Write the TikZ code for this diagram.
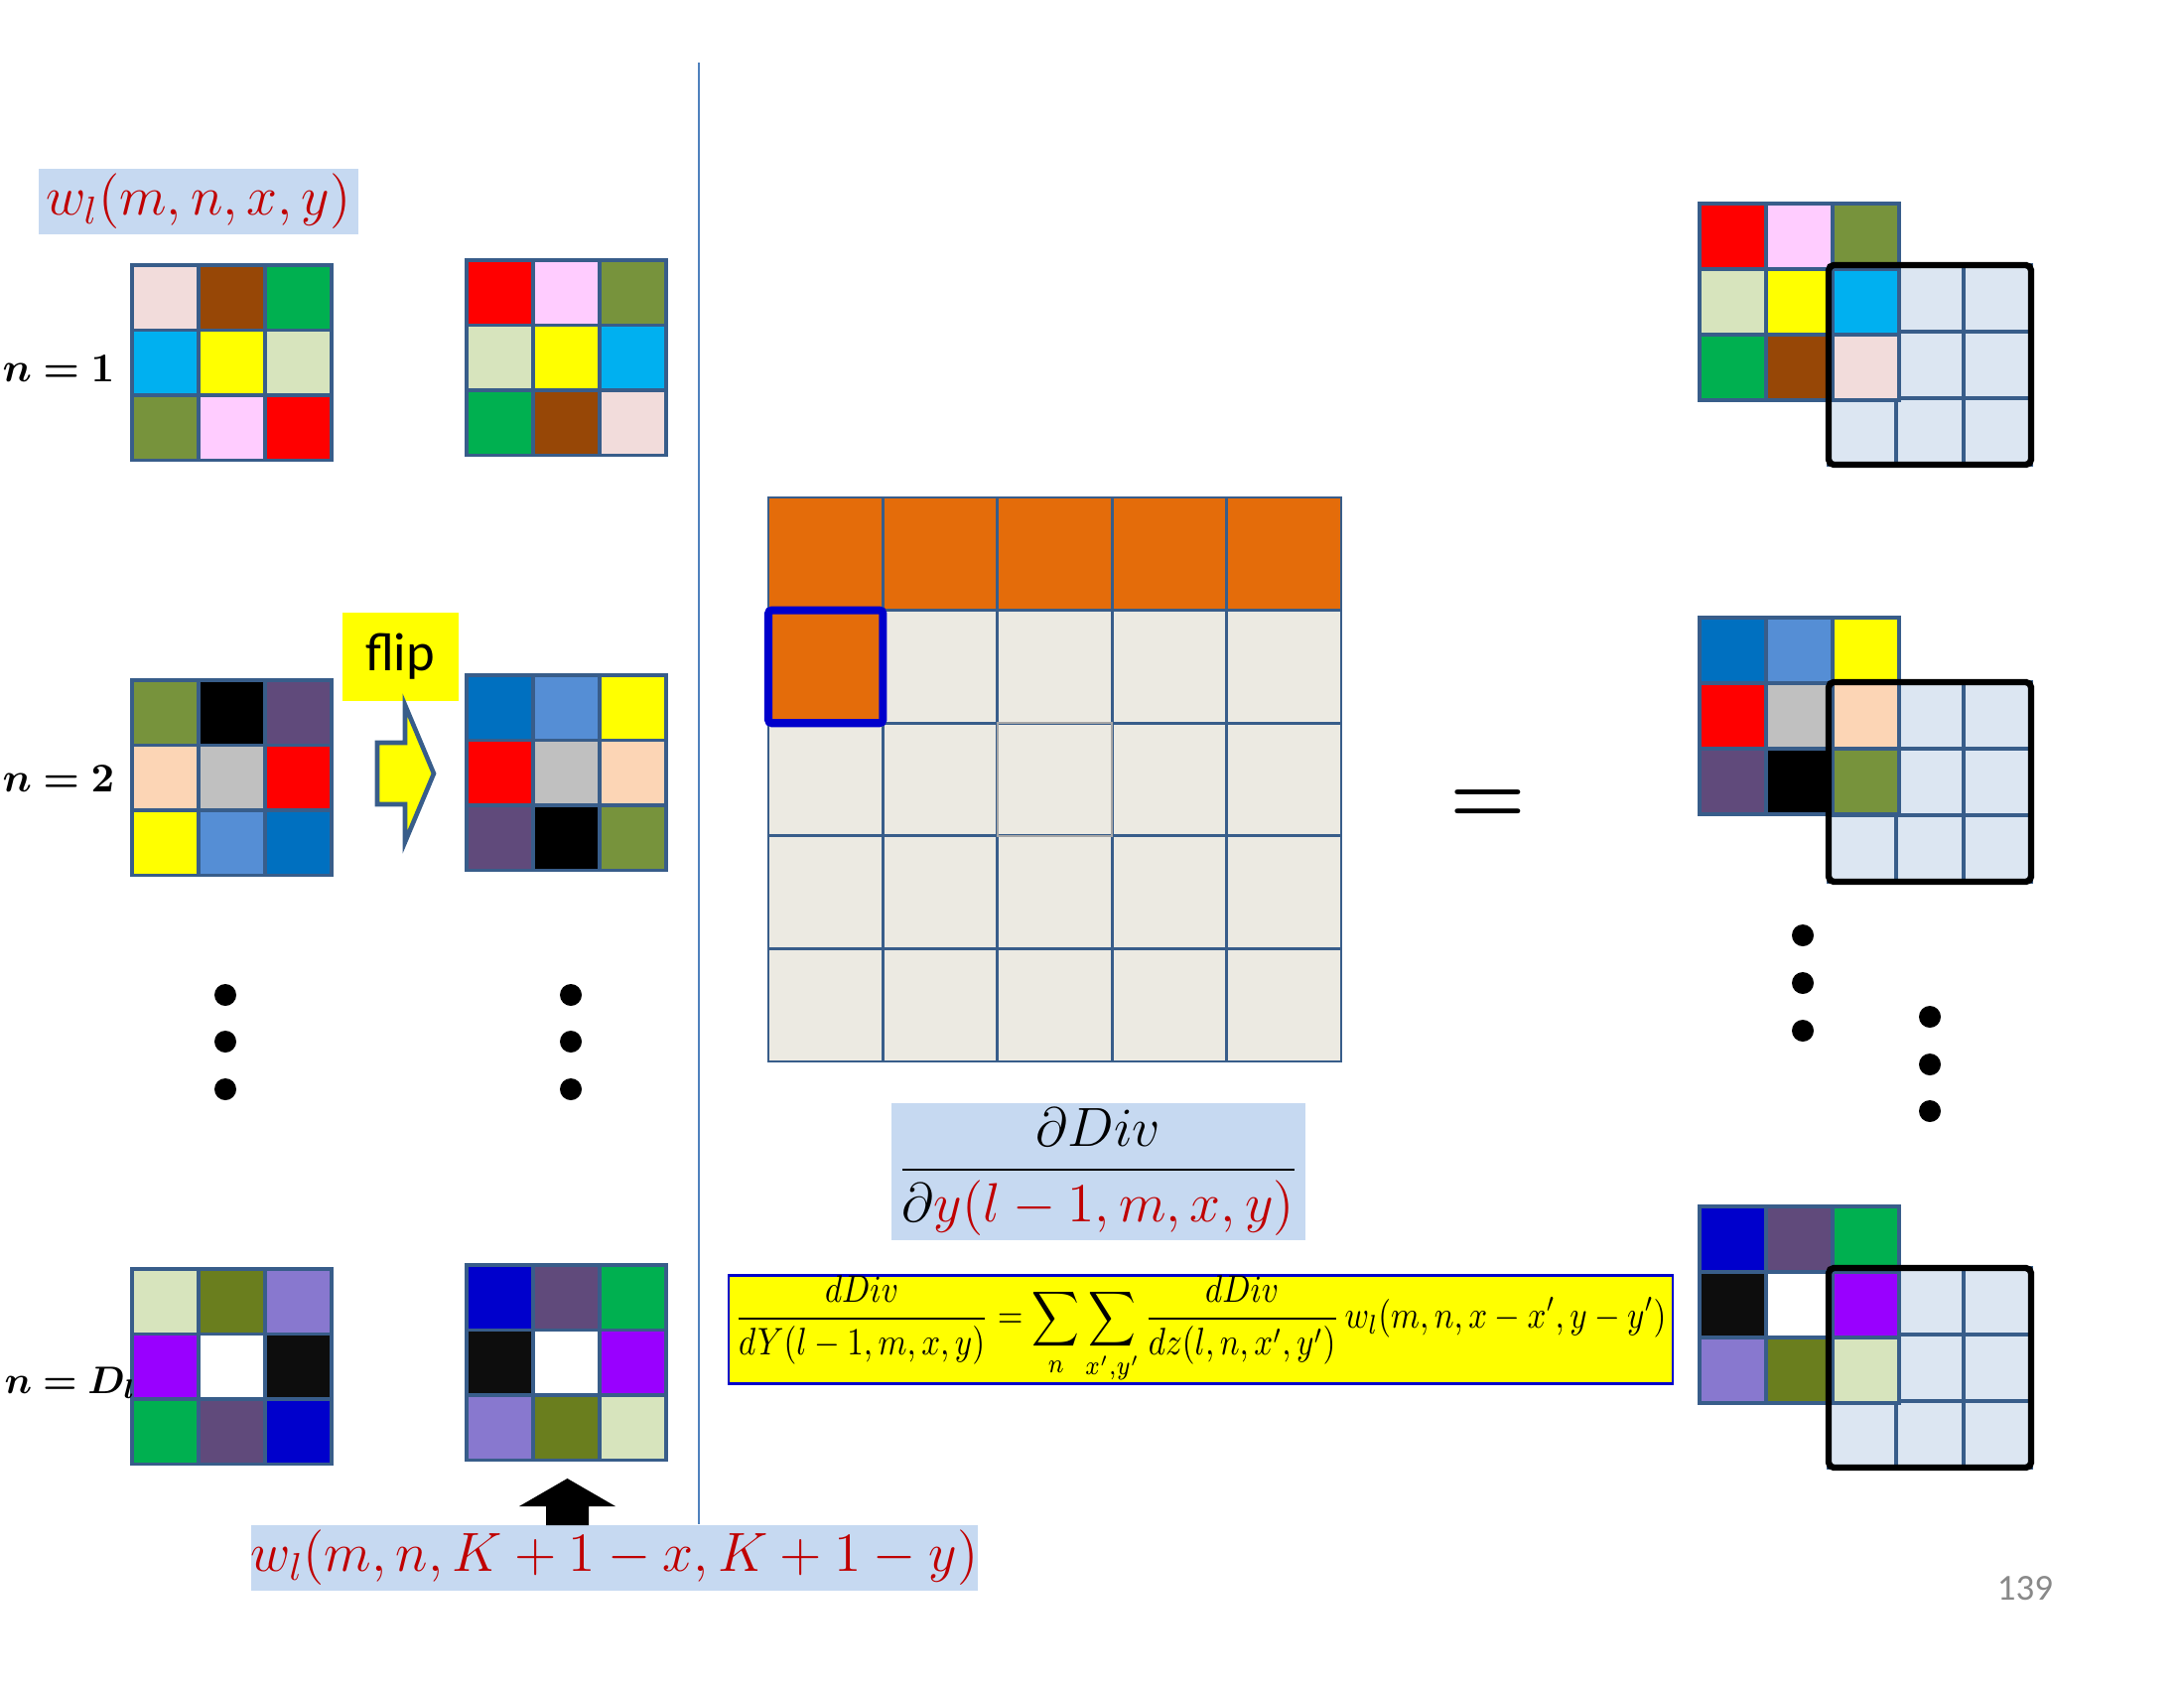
\RequirePackage{fix-cm}
\documentclass[tikz,border=0pt]{standalone}
\usepackage{fontspec}
\usepackage{amsmath, amssymb, bm}
\usepackage{graphicx}
\usepackage{tikz}
\usetikzlibrary{calc, positioning}
\newfontfamily\calibri{Carlito}
\definecolor{gridBlue}  {RGB}{ 56, 93,138}
\definecolor{labelBlue} {RGB}{198,217,241}
\definecolor{darkRed}   {RGB}{192,  0,  0}
\definecolor{sepBlue}   {RGB}{ 79,129,189}
\definecolor{tanBg}     {RGB}{236,234,226}
\definecolor{orangeK}   {RGB}{228,108, 10}
\definecolor{hiBlue}    {RGB}{  0,  0,204}
\definecolor{cellBlue}  {RGB}{220,230,242}
\definecolor{pageGray}  {RGB}{137,137,137}
\definecolor{kPinkL}    {RGB}{242,220,219}
\definecolor{kBrown}    {RGB}{151, 71,  6}
\definecolor{kGreen}    {RGB}{  0,176, 80}
\definecolor{kCyan}     {RGB}{  0,176,240}
\definecolor{kYellow}   {RGB}{255,255,  0}
\definecolor{kGreenL}   {RGB}{215,228,189}
\definecolor{kOlive}    {RGB}{119,147, 60}
\definecolor{kPink}     {RGB}{255,204,255}
\definecolor{kRed}      {RGB}{255,  0,  0}
\definecolor{kPurple}   {RGB}{ 96, 74,123}
\definecolor{kPeach}    {RGB}{252,213,181}
\definecolor{kGray}     {RGB}{192,192,192}
\definecolor{kBlueM}    {RGB}{ 85,142,213}
\definecolor{kBlue}     {RGB}{  0,112,192}
\definecolor{kOliveD}   {RGB}{106,126, 30}
\definecolor{kLav}      {RGB}{136,120,207}
\definecolor{kViolet}   {RGB}{153,  0,255}
\definecolor{kBlack}    {RGB}{ 13, 13, 13}
\definecolor{kBlueD}    {RGB}{  0,  0,204}

% 3x3 grid of named cells: name, x, y (top left), cell w, cell h, colours
\newcommand{\cellgrid}[6]{%
  \foreach \c [count=\i from 0] in {#6} {%
    \pgfmathtruncatemacro{\col}{mod(\i,3)}%
    \pgfmathtruncatemacro{\row}{div(\i,3)}%
    \node[kcell, minimum width=#4cm, minimum height=#5cm, fill=\c]
      (#1-\i) at ({#2+\col*#4},{#3-\row*#5}) {};
  }%
}

\begin{document}
\begin{tikzpicture}[
  kcell/.style={rectangle, draw=gridBlue, line width=0.9pt, inner sep=0pt,
    outer sep=0pt, anchor=north west},
  gcell/.style={rectangle, draw=gridBlue, line width=0.75pt, inner sep=0pt,
    outer sep=0pt, anchor=north west, minimum width=1.154cm,
    minimum height=1.136cm},
  wlabel/.style={rectangle, fill=labelBlue, text=darkRed, inner sep=0pt,
    minimum height=0.66cm, font=\fontsize{15.8}{19}\selectfont},
  nlabel/.style={anchor=base east, inner sep=0pt,
    font=\fontsize{11.7}{14}\selectfont},
  dotn/.style={circle, fill=black, inner sep=0pt, minimum size=0.22cm},
  winbox/.style={draw=black, line width=1.8pt, rounded corners=1.5pt},
  hilite/.style={draw=hiBlue, line width=2.3pt, rounded corners=1pt},
]
\useasboundingbox (0,0) rectangle (22,-17);

%% ── Labels of the kernel column ──────────────────────────────────────────────
\node[wlabel, minimum width=3.22cm] (wtop) at (2.00,-2.03) {$w_l(m,n,x,y)$};
\node[wlabel, minimum width=7.30cm] (wflip) at (6.19,-15.69)
  {$w_l(m,n,K+1-x,K+1-y)$};

%% ── Separator ────────────────────────────────────────────────────────────────
\coordinate (septop) at (7.04,-0.63);
\draw[sepBlue, line width=0.6pt] (septop) -- (septop |- wflip.north);

%% ── Kernels and their flipped copies ─────────────────────────────────────────
\cellgrid{L1}{1.33}{-2.67}{0.67}{0.655}{kPinkL,kBrown,kGreen,kCyan,kYellow,kGreenL,kOlive,kPink,kRed}
\cellgrid{R1}{4.70}{-2.62}{0.67}{0.655}{kRed,kPink,kOlive,kGreenL,kYellow,kCyan,kGreen,kBrown,kPinkL}
\node[nlabel] (n1) at (1.16,-3.84) {$\bm{n = 1}$};

\cellgrid{L2}{1.33}{-6.85}{0.67}{0.655}{kOlive,black,kPurple,kPeach,kGray,kRed,kYellow,kBlueM,kBlue}
\cellgrid{R2}{4.70}{-6.80}{0.67}{0.655}{kBlue,kBlueM,kYellow,kRed,kGray,kPeach,kPurple,black,kOlive}
\node[nlabel] (n2) at (1.16,-7.97) {$\bm{n = 2}$};

\cellgrid{L3}{1.33}{-12.78}{0.67}{0.655}{kGreenL,kOliveD,kLav,kViolet,white,kBlack,kGreen,kPurple,kBlueD}
\cellgrid{R3}{4.70}{-12.74}{0.67}{0.655}{kBlueD,kPurple,kGreen,kBlack,white,kViolet,kLav,kOliveD,kGreenL}
\node[nlabel, font=\fontsize{11}{13}\selectfont] (nD) at (1.38,-14.03)
  {$\bm{n = D_l}$};

%% ── Flip ─────────────────────────────────────────────────────────────────────
\node[fill=kYellow, minimum width=1.17cm, minimum height=0.89cm, inner sep=0pt,
      font=\calibri\fontsize{15.5}{18}\selectfont]
  (flip) at (4.03,-6.615) {flip};
\coordinate (fliptail) at (3.80,-7.79);
\draw[draw=gridBlue, fill=kYellow, line width=1.3pt, line join=miter]
  (fliptail) ++(0,0.31) -- ++(0.28,0) -- ++(0,0.38) -- ++(0.29,-0.69)
  -- ++(-0.29,-0.69) -- ++(0,0.38) -- ++(-0.28,0) -- cycle;

\node[dotn] (ld1) at (2.27,-10.02) {};
\node[dotn] (ld2) at (2.27,-10.49) {};
\node[dotn] (ld3) at (2.27,-10.97) {};
\node[dotn] (rd1) at (5.75,-10.02) {};
\node[dotn] (rd2) at (5.75,-10.49) {};
\node[dotn] (rd3) at (5.75,-10.97) {};

\coordinate (upbase) at (5.715,-15.36);
\fill (upbase) ++(-0.215,0) -- ++(0,0.19) -- ++(-0.27,0) -- ++(0.485,0.28)
  -- ++(0.485,-0.28) -- ++(-0.27,0) -- ++(0,-0.19) -- cycle;

%% ── Gradient map of layer l-1 ────────────────────────────────────────────────
\foreach \r in {0,...,4}
  \foreach \c in {0,...,4} {
    \ifnum\r=0 \def\fc{orangeK}\else\def\fc{tanBg}\fi
    \node[gcell, fill=\fc] (G-\r-\c) at ({7.74+\c*1.154},{-5.01-\r*1.136}) {};
  }
\fill[orangeK] (G-1-0.north west) rectangle (G-1-0.south east);
\draw[gray!70, line width=0.6pt] (G-2-2.north west) rectangle (G-2-2.south east);
\draw[hilite] (G-1-0.north west) rectangle (G-1-0.south east);

\node[fill=labelBlue, minimum width=4.17cm, minimum height=1.38cm, inner sep=0pt,
      font=\fontsize{15.8}{19}\selectfont]
  (dydiv) at (11.065,-11.80)
  {$\displaystyle\frac{\partial Div}{\partial\textcolor{darkRed}{y(l-1,m,x,y)}}$};

\node[draw=hiBlue, line width=0.8pt, fill=kYellow, minimum width=9.51cm,
      minimum height=1.04cm, inner sep=0pt, font=\fontsize{11}{13}\selectfont]
  (formula) at (12.095,-13.39)
  {\scalebox{0.855}[1]{$\displaystyle\frac{dDiv}{dY(l-1,m,x,y)} = \sum_{n}\sum_{x',y'}
   \frac{dDiv}{dz(l,n,x',y')}\,w_l(m,n,x-x',y-y')$}};

\node[anchor=base, font=\fontsize{25}{28}\selectfont] (eqsign) at (14.985,-8.29)
  {$\bm{=}$};

%% ── Kernels placed on the gradient map ───────────────────────────────────────
\cellgrid{B1}{18.42}{-2.67}{0.68}{0.67}{cellBlue,cellBlue,cellBlue,cellBlue,cellBlue,cellBlue,cellBlue,cellBlue,cellBlue}
\cellgrid{K1}{17.12}{-2.05}{0.67}{0.66}{kRed,kPink,kOlive,kGreenL,kYellow,kCyan,kGreen,kBrown,kPinkL}
\draw[winbox] (B1-0.north west) rectangle (B1-8.south east);

\cellgrid{B2}{18.42}{-6.87}{0.68}{0.67}{cellBlue,cellBlue,cellBlue,cellBlue,cellBlue,cellBlue,cellBlue,cellBlue,cellBlue}
\cellgrid{K2}{17.12}{-6.22}{0.67}{0.66}{kBlue,kBlueM,kYellow,kRed,kGray,kPeach,kPurple,black,kOlive}
\draw[winbox] (B2-0.north west) rectangle (B2-8.south east);

\node[dotn] (kd1) at (18.16,-9.42) {};
\node[dotn] (kd2) at (18.16,-9.90) {};
\node[dotn] (kd3) at (18.16,-10.38) {};
\node[dotn] (bd1) at (19.44,-10.24) {};
\node[dotn] (bd2) at (19.44,-10.72) {};
\node[dotn] (bd3) at (19.44,-11.19) {};

\cellgrid{B3}{18.42}{-12.77}{0.68}{0.67}{cellBlue,cellBlue,cellBlue,cellBlue,cellBlue,cellBlue,cellBlue,cellBlue,cellBlue}
\cellgrid{K3}{17.12}{-12.15}{0.67}{0.66}{kBlueD,kPurple,kGreen,kBlack,white,kViolet,kLav,kOliveD,kGreenL}
\draw[winbox] (B3-0.north west) rectangle (B3-8.south east);

%% ── Page number ──────────────────────────────────────────────────────────────
\node[anchor=base, text=pageGray, font=\calibri\fontsize{10.5}{12}\selectfont]
  (page) at (20.40,-16.11) {139};

\end{tikzpicture}
\end{document}
